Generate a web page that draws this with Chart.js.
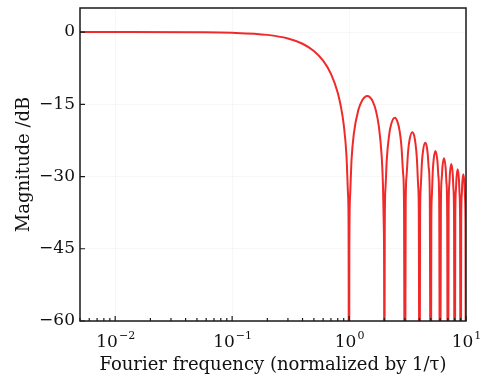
<!DOCTYPE html>
<html>
<head>
<meta charset="utf-8">
<script src="https://cdn.jsdelivr.net/npm/chart.js@4"></script>
<style>
  html, body { margin: 0; padding: 0; background: #fff; }
  #wrap { width: 483px; height: 377px; }
</style>
</head>
<body>
<div id="wrap"><canvas id="grafico" width="483" height="377"></canvas></div>
<script>
// frecuencia normalizada (1/tau) y magnitud en dB
const freqs = [
  0.005, 0.01, 0.05, 0.1, 0.2, 0.3, 0.4, 0.5, 0.6, 0.7, 0.8, 0.85, 0.9, 0.95, 0.98, 0.99, 1,
  1.005, 1.02, 1.05, 1.1, 1.2, 1.3, 1.4, 1.43, 1.5, 1.6, 1.7, 1.8, 1.9, 1.95, 1.98, 1.995, 2,
  2.02, 2.05, 2.1, 2.2, 2.3, 2.46, 2.6, 2.7, 2.8, 2.9, 2.95, 3,
  3.05, 3.1, 3.2, 3.3, 3.47, 3.6, 3.7, 3.8, 3.9, 3.95, 4,
  4.05, 4.1, 4.2, 4.3, 4.48, 4.6, 4.7, 4.8, 4.9, 5,
  5.05, 5.1, 5.2, 5.3, 5.48, 5.7, 5.8, 5.9, 6,
  6.1, 6.2, 6.3, 6.48, 6.7, 6.8, 6.9, 7,
  7.1, 7.2, 7.3, 7.49, 7.7, 7.8, 7.9, 8,
  8.1, 8.2, 8.3, 8.49, 8.7, 8.8, 8.9, 9,
  9.1, 9.2, 9.3, 9.49, 9.7, 9.8, 9.9, 10
];
const magnitud = [
  0, 0, -0.04, -0.14, -0.58, -1.33, -2.42, -3.92, -5.94, -8.69, -12.6, -15.4, -19.2, -25.6, -33.8, -39.9, -100,
  -46.1, -34.2, -26.5, -21.0, -16.2, -14.1, -13.3, -13.26, -13.5, -14.5, -16.4, -19.7, -25.7, -31.9, -39.9, -52.0, -100,
  -40.1, -32.3, -26.6, -21.4, -19.0, -17.8, -18.7, -20.4, -23.5, -29.4, -35.5, -100,
  -35.8, -30.0, -24.7, -22.2, -20.8, -21.5, -23.2, -26.2, -32.0, -38.0, -100,
  -38.2, -32.4, -27.0, -24.5, -23.0, -23.6, -25.2, -28.2, -34.0, -100,
  -40.1, -34.3, -28.9, -26.3, -24.7, -26.9, -29.8, -35.6, -100,
  -35.9, -30.4, -27.8, -26.2, -28.3, -31.2, -36.9, -100,
  -37.2, -31.7, -29.1, -27.4, -29.5, -32.4, -38.1, -100,
  -38.3, -32.8, -30.2, -28.5, -30.6, -33.5, -39.1, -100,
  -39.3, -33.8, -31.2, -29.5, -31.5, -34.4, -40.1, -100
];
const yTicks = [-60, -45, -30, -15, 0];
const xDecadas = [0.01, 0.1, 1, 10];
const xExpon = ["\u22122", "\u22121", "0", "1"];

const serif = "'DejaVu Serif', 'Liberation Serif', serif";

const puntos = freqs.map((f, i) => ({ x: f, y: magnitud[i] }));

// marco negro, ticks hacia adentro y etiquetas 10^n
const marcoPlugin = {
  id: "marco",
  afterDraw(chart) {
    const ctx = chart.ctx;
    const a = chart.chartArea;
    const xs = chart.scales.x;
    const ys = chart.scales.y;
    ctx.save();
    ctx.strokeStyle = "#1a1a1a";
    ctx.lineWidth = 1.5;
    ctx.strokeRect(a.left, a.top, a.right - a.left, a.bottom - a.top);

    ctx.lineWidth = 1.2;
    ctx.beginPath();
    yTicks.forEach(v => {
      const py = ys.getPixelForValue(v);
      ctx.moveTo(a.left, py);
      ctx.lineTo(a.left + 5, py);
    });
    for (let d = 0.001; d <= 10; d *= 10) {
      for (let k = 1; k <= 9; k++) {
        const v = d * k;
        if (v < xs.min || v > xs.max * 1.0001) continue;
        const px = xs.getPixelForValue(v);
        const largo = k === 1 ? 5 : 3;
        ctx.moveTo(px, a.bottom);
        ctx.lineTo(px, a.bottom - largo);
      }
    }
    ctx.stroke();

    ctx.fillStyle = "#111";
    ctx.textBaseline = "alphabetic";
    xDecadas.forEach((v, i) => {
      const px = xs.getPixelForValue(v);
      ctx.font = "17px " + serif;
      const w1 = ctx.measureText("10").width;
      ctx.font = "11px " + serif;
      const w2 = ctx.measureText(xExpon[i]).width;
      const x0 = px - (w1 + w2) / 2;
      ctx.font = "17px " + serif;
      ctx.textAlign = "left";
      ctx.fillText("10", x0, a.bottom + 26);
      ctx.font = "11px " + serif;
      ctx.fillText(xExpon[i], x0 + w1 + 1, a.bottom + 18);
    });
    ctx.restore();
  }
};

const ctx = document.getElementById("grafico");

new Chart(ctx, {
  type: "line",
  data: {
    datasets: [{
      data: puntos,
      borderColor: "#f02a2a",
      borderWidth: 2,
      pointRadius: 0,
      fill: false,
      cubicInterpolationMode: "monotone",
      clip: 0
    }]
  },
  options: {
    responsive: false,
    animation: false,
    events: [],
    layout: { padding: { top: 8, right: 17, left: 0, bottom: 0 } },
    plugins: { legend: { display: false }, tooltip: { enabled: false } },
    scales: {
      x: {
        type: "logarithmic",
        min: 0.005,
        max: 10,
        afterBuildTicks: s => { s.ticks = xDecadas.map(v => ({ value: v })); },
        afterFit: s => { s.height = 56; s.paddingLeft = 0; s.paddingRight = 0; },
        grid: { color: "rgba(0,0,0,0.03)", drawTicks: false },
        border: { display: false },
        ticks: { display: false },
        title: {
          display: true,
          text: "Fourier frequency (normalized by 1/\u03c4)",
          color: "#111",
          font: { family: serif, size: 18 },
          padding: { top: 0, bottom: 1 }
        }
      },
      y: {
        min: -60,
        max: 5,
        afterBuildTicks: s => { s.ticks = yTicks.map(v => ({ value: v })); },
        afterFit: s => { s.width = 80; s.paddingTop = 0; s.paddingBottom = 0; },
        grid: { color: "rgba(0,0,0,0.03)", drawTicks: false },
        border: { display: false },
        ticks: {
          padding: 5,
          color: "#111",
          font: { family: serif, size: 17 },
          callback: v => (v < 0 ? "\u2212" + Math.abs(v) : String(v))
        },
        title: {
          display: true,
          text: "Magnitude /dB",
          color: "#111",
          font: { family: serif, size: 18 },
          padding: { top: 14, bottom: 0 }
        }
      }
    }
  },
  plugins: [marcoPlugin]
});
</script>
</body>
</html>
